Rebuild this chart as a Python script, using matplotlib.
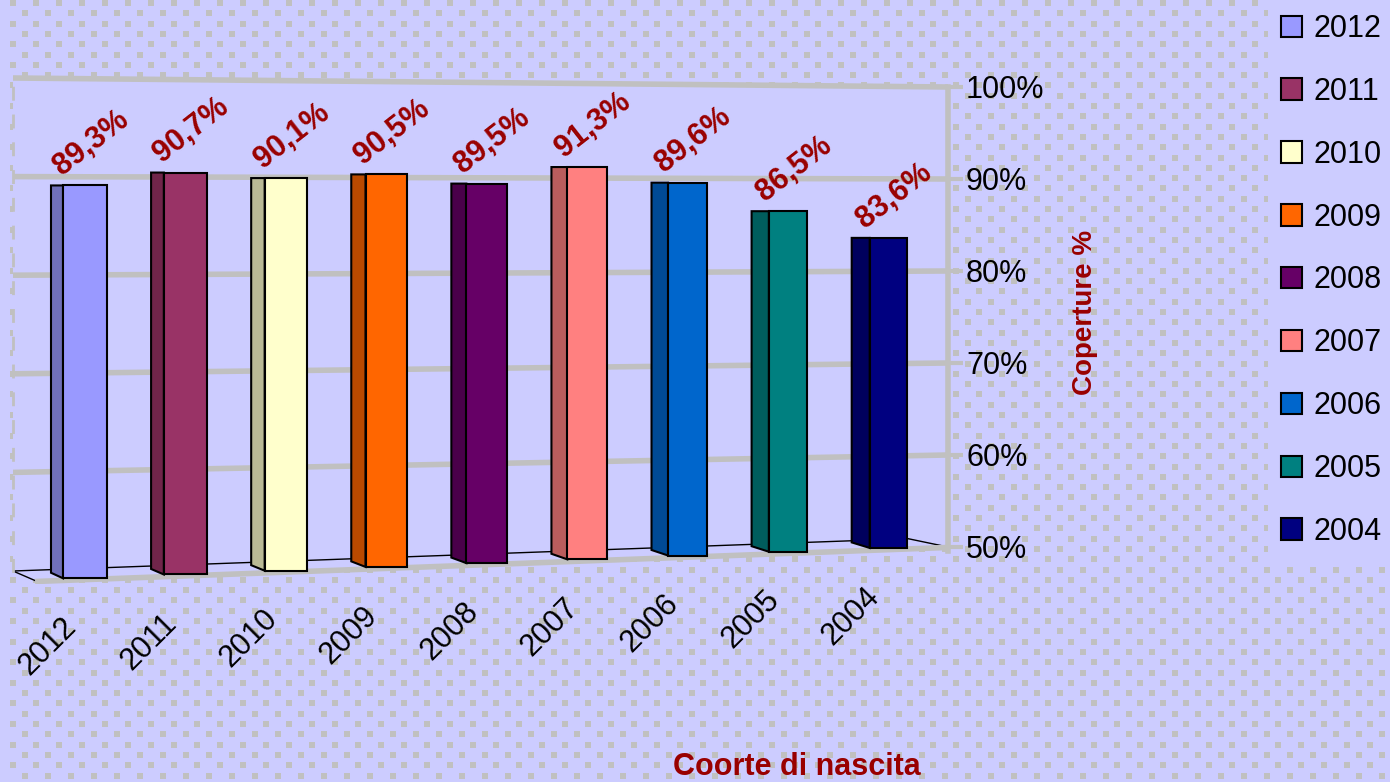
import numpy as np
import matplotlib
matplotlib.use("Agg")
import matplotlib.pyplot as plt
import matplotlib.colors as mcolors
from matplotlib.patches import Polygon, Rectangle, Patch

plt.rcParams['font.family'] = ['Liberation Sans', 'DejaVu Sans']

# data
years = ["2012", "2011", "2010", "2009", "2008", "2007", "2006", "2005", "2004"]
coverage = [89.3, 90.7, 90.1, 90.5, 89.5, 91.3, 89.6, 86.5, 83.6]
labels = ["89,3%", "90,7%", "90,1%", "90,5%", "89,5%", "91,3%", "89,6%", "86,5%", "83,6%"]
yticks = [50, 60, 70, 80, 90, 100]
ytick_labels = ["50%", "60%", "70%", "80%", "90%", "100%"]

colors = ['#9999FF', '#993366', '#FFFFCC', '#FF6600', '#660066',
          '#FF8080', '#0066CC', '#008080', '#000080']
dark_red = '#990000'
bg = '#CCCCFF'
grey = '#C0C0C0'

W, H = 1390, 782
fig = plt.figure(figsize=(W / 100, H / 100), dpi=100, facecolor=bg)

# dotted background
bga = fig.add_axes([0, 0, 1, 1], zorder=0)
bga.set_xlim(0, W)
bga.set_ylim(H, 0)
bga.axis('off')
rows = np.arange(3, H, 10.3)
dx, dy = [], []
for k, yy in enumerate(rows):
    xs = np.arange(13 + (11.5 if k % 2 else 0), W, 23)
    dx.extend(xs)
    dy.extend([yy] * len(xs))
bga.scatter(dx, dy, marker='s', s=14, color=grey, linewidths=0)
bga.add_patch(Rectangle((1268, 0), W - 1268, 565, facecolor=bg, edgecolor='none', zorder=3))

# main axes
left_px, right_px, top_px, bot_px = 13, 948, 70, 584
ax = fig.add_axes([left_px / W, 1 - bot_px / H, (right_px - left_px) / W, (bot_px - top_px) / H], zorder=1)
ax.set_facecolor('none')
unit = 100.4
ax.set_xlim(-(85 - left_px) / unit, (right_px - 85) / unit)
px_per_pct = 9.2
ax.set_ylim(50 - (bot_px - 547) / px_per_pct, 100 + (87 - top_px) / px_per_pct)
xl, xr = ax.get_xlim()


def left_level(v):
    # gridline height at the left edge of the (perspective) back wall
    return 50 + (547 - (78 + (100 - v) * 9.86)) / px_per_pct


# back wall + floor
ax.add_patch(Polygon([(xl, left_level(100)), (xr, 100), (xr, 49.95),
                      (xl + 0.22, 46.25), (xl, left_level(50))],
                     closed=True, facecolor=bg, edgecolor='none', zorder=0))

x = np.arange(len(years))
n = len(years) - 1
front_w = (44 - 7 * x / n) / unit
side_w = (12 + 6 * x / n) / unit
floor = 46.6 + 3.3 * x / n

# gridlines
for v in yticks[1:]:
    ax.plot([xl, xr], [left_level(v), v], color=grey, lw=4, zorder=1, solid_capstyle='butt')

# floor edges
ax.plot([xl, xl + 0.22], [left_level(50), 46.35], color='black', lw=1, zorder=1)
ax.plot([xl, 8.2, xr], [left_level(50), 50.9, 50.0], color='black', lw=1, zorder=1)
ax.plot([xl + 0.22, xr], [46.25, 49.95], color=grey, lw=4, zorder=1, solid_capstyle='butt')

# side faces + fronts
for i in range(len(years)):
    xf = x[i] - front_w[i] / 2
    side_col = np.array(mcolors.to_rgb(colors[i])) * 0.73
    ax.add_patch(Polygon([(xf - side_w[i], floor[i] + 0.6), (xf, floor[i]),
                          (xf, coverage[i]), (xf - side_w[i], coverage[i])],
                         closed=True, facecolor=side_col, edgecolor='black', lw=1.5, zorder=3))
ax.bar(x, np.array(coverage) - floor, bottom=floor, width=front_w, color=colors,
       edgecolor='black', linewidth=1.5, zorder=4)

for i in range(len(years)):
    ax.text(x[i] + 0.06, coverage[i] + 4.6, labels[i], rotation=38, ha='center', va='center',
            fontsize=22, fontweight='bold', color=dark_red, zorder=5)
    ax.annotate(years[i], xy=(x[i], floor[i]), xytext=(-17, -24), textcoords='offset points',
                rotation=45, ha='right', va='top', rotation_mode='anchor', fontsize=22,
                color='black', annotation_clip=False)

# axes
ax.set_yticks(yticks)
ax.set_yticklabels(ytick_labels)
ax.yaxis.tick_right()
ax.tick_params(axis='y', direction='out', length=11, width=3, color=grey, pad=2, labelsize=22)
ax.set_xticks([])
for s in ['top', 'bottom']:
    ax.spines[s].set_visible(False)
ax.spines['right'].set_color(grey)
ax.spines['right'].set_linewidth(4)
ax.spines['right'].set_bounds(49.6, 100)
ax.spines['left'].set_color(grey)
ax.spines['left'].set_linewidth(2)
ax.spines['left'].set_linestyle((0, (4, 6)))
ax.spines['left'].set_bounds(left_level(50), left_level(100))

fig.text(1085 / W, 1 - 312 / H, "Coperture %", rotation=90, ha='center', va='center',
         fontsize=20, fontweight='bold', color=dark_red)
fig.text(797 / W, 1 - 767 / H, "Coorte di nascita", ha='center', va='center',
         fontsize=22, fontweight='bold', color=dark_red)

handles = [Patch(facecolor=c, edgecolor='black', lw=1.5) for c in colors]
leg = fig.legend(handles, years, loc='upper left', bbox_to_anchor=(1281 / W, 1 - 14 / H),
                 frameon=False, fontsize=22, labelspacing=1.075, handlelength=0.7,
                 handleheight=0.7, handletextpad=0.35, borderpad=0, borderaxespad=0)
leg.set_zorder(6)

fig.savefig("out.png", dpi=100, facecolor=bg)
